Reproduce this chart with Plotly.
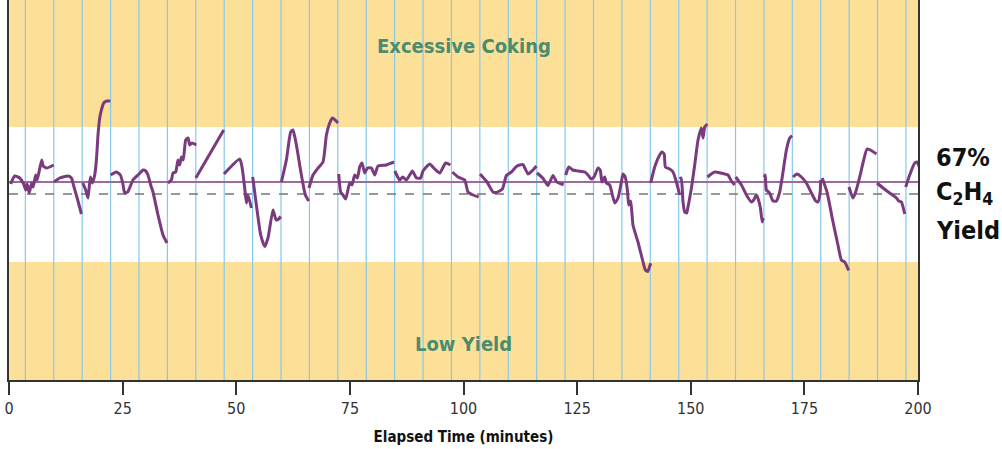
import plotly.graph_objects as go

# ---- data (x = elapsed minutes, y = yield index; target line at 198) ----
seg_x = [
    [0.37, 1.25, 2.35, 3.23, 3.67, 4.0, 4.44, 4.99, 5.32, 5.87, 6.2, 7.19, 7.52, 8.29, 9.83],
    [9.9, 11.15, 12.98, 13.73, 14.24, 15.12, 15.93],
    [16.22, 16.88, 17.38, 17.91, 18.35, 18.86, 19.23, 19.58, 19.96, 20.33, 20.84, 21.5, 22.31],
    [22.38, 23.63, 24.51, 25.02, 25.46, 26.12, 27.28, 28.6, 29.48, 30.08, 30.58, 31.18, 31.68, 32.78, 33.88, 34.76],
    [34.98, 35.73, 36.08, 36.68, 37.18, 37.56, 37.93, 38.33, 38.88, 39.39, 39.76, 40.27, 41.23],
    [41.1, 47.24],
    [47.3, 50.76, 51.27, 51.86, 52.23, 52.59, 53.33],
    [53.62, 54.43, 55.38, 56.26, 56.98, 58.09, 58.79, 59.34, 59.78],
    [59.93, 61.03, 61.98, 62.49, 63.23, 64.33, 65.21, 65.94],
    [66.0, 66.89, 67.99, 69.09, 69.84, 70.56, 71.16, 72.39],
    [72.54, 72.98, 73.49, 74.08, 74.96, 75.47, 76.06, 76.66, 77.16, 77.67, 78.26, 78.86, 79.74, 80.46, 81.19, 83.04, 84.14, 84.71],
    [84.87, 85.96, 86.62, 87.44, 88.76, 89.64, 90.58, 91.09, 92.56, 93.67, 94.76, 96.08, 97.12],
    [97.56, 98.79, 100.26, 100.99, 102.09, 103.35],
    [103.63, 105.17, 106.49, 107.24, 108.56, 109.44, 110.54, 111.64, 112.37, 113.09, 114.2, 115.29, 116.04],
    [116.17, 117.43, 118.59, 119.69, 120.51, 121.54, 122.05],
    [122.49, 123.15, 124.03, 125.2, 126.67, 127.39, 128.1, 128.71, 129.6, 130.08, 130.47, 131.07, 131.44, 132.17,
     133.27, 134.0, 134.74, 135.1, 135.58, 136.06, 136.35, 136.79, 137.29, 138.39, 139.5, 140.02, 140.53, 141.19],
    [141.19, 142.07, 143.17, 143.67, 144.16, 144.42, 145.37, 146.1, 146.84, 147.57],
    [147.57, 147.9, 148.3, 148.67, 149.11, 149.35, 150.15, 150.87, 151.6, 152.34, 152.7, 153.07, 153.66],
    [153.66, 155.27, 157.47, 158.2, 158.94, 159.67],
    [159.89, 161.15, 162.25, 163.34, 163.85, 164.44, 164.84, 165.33, 165.72, 165.94],
    [166.12, 166.38, 166.64, 167.37, 168.1, 168.84, 169.57, 170.3, 171.04, 171.77, 172.28],
    [172.5, 173.38, 174.34, 175.44, 176.55, 177.49, 178.0, 178.48, 178.59],
    [178.92, 179.98, 181.3, 182.39, 183.14, 183.87, 184.75],
    [184.81, 185.69, 186.29, 187.17, 188.05, 188.78, 189.53, 190.85],
    [190.98, 192.3, 193.77, 195.25, 195.76, 196.35, 197.07],
    [197.29, 198.17, 199.27, 199.78, 200.37],
]
seg_y = [
    [196, 204, 202, 196, 190, 196, 187, 197, 193, 205, 200, 220, 214, 212, 215],
    [198, 202, 204, 202, 194, 180, 166],
    [197, 190, 182, 203, 197, 205, 220, 245, 262, 270, 277, 279, 279],
    [205, 208, 205, 197, 187, 188, 200, 206, 210, 209, 205, 195, 188, 165, 145, 137],
    [197, 200, 207, 208, 220, 215, 223, 220, 240, 242, 235, 237, 235],
    [202, 250],
    [206, 221, 213, 192, 177, 185, 172],
    [203, 175, 145, 133.5, 142, 170, 160, 161, 163.5],
    [198, 220, 248, 250, 235, 205, 185, 179],
    [192, 205, 212, 218, 245, 257, 262, 257],
    [206, 188, 185, 181, 197, 195, 205, 202, 213, 217, 207, 212, 212, 205, 214, 215, 217, 218],
    [209, 200, 203, 200, 209, 202, 202, 209, 216, 211, 207, 217, 215],
    [208, 203, 200, 188, 185, 183],
    [206, 198, 188, 187.5, 191, 204.5, 208, 213.5, 215, 215.5, 206, 210, 214],
    [207, 202, 194.5, 204.5, 198, 196, 195.5],
    [205, 213, 210, 209, 208, 205, 201, 203, 212, 210, 198, 203, 197, 195,
     177, 182, 198, 206, 203, 190, 175, 179, 155, 138, 118, 110, 108.5, 116.7],
    [197, 213, 225, 228, 226, 213, 211, 208, 198, 185],
    [201, 202, 178, 168, 167, 172, 192, 215, 240, 252, 242, 253, 256],
    [203, 208, 206, 205, 199, 195],
    [203, 195, 185, 178, 180, 185, 181, 172, 158, 162],
    [203, 205, 190, 187, 179, 179, 188, 208, 230, 242, 244.5],
    [203, 206, 203, 197, 187, 179, 178, 188, 200],
    [202, 188, 158, 135, 120, 118, 109.5],
    [193, 182, 188, 203, 220, 231, 230, 226],
    [197, 192, 187, 182, 179, 178, 166],
    [193, 205, 217, 218, 212],
]
target_yield = 198      # 67% C2H4 yield
dashed_ref = 186
coking_limit = 253      # above: excessive coking
low_limit = 118         # below: low yield
y_min, y_max = 0, 380
x_ticks = [0, 25, 50, 75, 100, 125, 150, 175, 200]
grid_x = [3.6 + 6.25 * k for k in range(32)]
right_labels = ["<b>67%</b>", "<b>C<sub>2</sub>H<sub>4</sub></b>", "<b>Yield</b>"]
right_label_y = [223, 187, 150]

ORANGE = "#FDE098"
PURPLE = "#7A3B7E"
COND = "Liberation Sans Narrow, DejaVu Sans Condensed, Arial Narrow, sans-serif"

fig = go.Figure()

xs, ys = [], []
for sx, sy in zip(seg_x, seg_y):
    xs += sx + [None]
    ys += sy + [None]
fig.add_trace(go.Scatter(x=xs, y=ys, mode="lines", connectgaps=False,
                         line=dict(color=PURPLE, width=3, shape="spline", smoothing=0.5),
                         hoverinfo="skip", showlegend=False, cliponaxis=True))

# bands
fig.add_shape(type="rect", xref="x", yref="y", x0=0, x1=200, y0=coking_limit, y1=y_max,
              fillcolor=ORANGE, line_width=0, layer="below")
fig.add_shape(type="rect", xref="x", yref="y", x0=0, x1=200, y0=y_min, y1=low_limit,
              fillcolor=ORANGE, line_width=0, layer="below")
# vertical blue lines
for gx in grid_x:
    fig.add_shape(type="line", xref="x", yref="y", x0=gx, x1=gx, y0=y_min, y1=y_max,
                  line=dict(color="#86C8EC", width=1.2), layer="below")
# target and reference lines
fig.add_shape(type="line", xref="x", yref="y", x0=0, x1=200, y0=target_yield, y1=target_yield,
              line=dict(color="#9C6A9E", width=2), layer="below")
fig.add_shape(type="line", xref="x", yref="y", x0=0, x1=200, y0=dashed_ref, y1=dashed_ref,
              line=dict(color="#777777", width=1.5, dash="dash"), layer="below")

fig.add_annotation(x=100, y=334, xref="x", yref="y", text="<b>Excessive Coking</b>",
                   showarrow=False, font=dict(family=COND, size=20, color="#4A8C70"))
fig.add_annotation(x=100, y=36, xref="x", yref="y", text="<b>Low Yield</b>",
                   showarrow=False, font=dict(family=COND, size=20, color="#4A8C70"))

for txt, yy in zip(right_labels, right_label_y):
    fig.add_annotation(x=1.0175, y=yy, xref="paper", yref="y", text=txt, showarrow=False,
                       xanchor="left", font=dict(family=COND, size=25, color="#111111"))

fig.update_layout(
    width=1002, height=449,
    margin=dict(l=9, r=84, t=0, b=69),
    paper_bgcolor="white", plot_bgcolor="white",
    showlegend=False,
    xaxis=dict(range=[0, 200], tickvals=x_ticks, ticks="outside", ticklen=13, tickwidth=1.5,
               tickcolor="#333", showgrid=False, zeroline=False, showline=True,
               linecolor="#333", linewidth=2, mirror=False,
               tickfont=dict(family=COND, size=16, color="#333"),
               title=dict(text="<b>Elapsed Time (minutes)</b>", standoff=14,
                          font=dict(family=COND, size=15, color="#111"))),
    yaxis=dict(range=[y_min, y_max], showticklabels=False, ticks="", showgrid=False,
               zeroline=False, showline=True, linecolor="#333", linewidth=2, mirror=True),
)

fig.write_html("out.html", config={"displayModeBar": False},
               post_script="document.body.style.margin='0';")
